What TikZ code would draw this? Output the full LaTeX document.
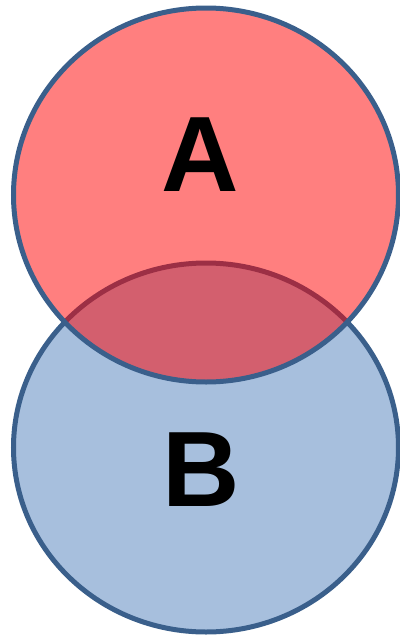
\documentclass[tikz,border=0pt]{standalone}
\usepackage{fontspec}
\setmainfont{Liberation Sans}
\usetikzlibrary {positioning}

\definecolor{rim}{RGB}{58,95,139}
\definecolor{bfill}{RGB}{167,191,221}

\begin{document}
\begin{tikzpicture}[
    set/.style={line width=0.1cm, draw=rim},
    letter/.style={inner sep=0pt, font=\bfseries\fontsize{61}{61}\selectfont},
]

    \useasboundingbox (0,0) rectangle (8,-12.78);

    % lower set first, the upper one lies over it
    \fill[bfill]                      (4.12,-8.95) ellipse [x radius=3.85, y radius=3.69];
    \draw[set]                        (4.12,-8.95) ellipse [x radius=3.85, y radius=3.69];
    \fill[red, fill opacity=0.5]      (4.12,-3.90) ellipse [x radius=3.85, y radius=3.74];
    \draw[set]                        (4.12,-3.90) ellipse [x radius=3.85, y radius=3.74];

    \node[letter] (A) at (4.00,-3.10) {A};
    \node[letter] (B) at (4.02,-9.40) {B};

\end{tikzpicture}
\end{document}
